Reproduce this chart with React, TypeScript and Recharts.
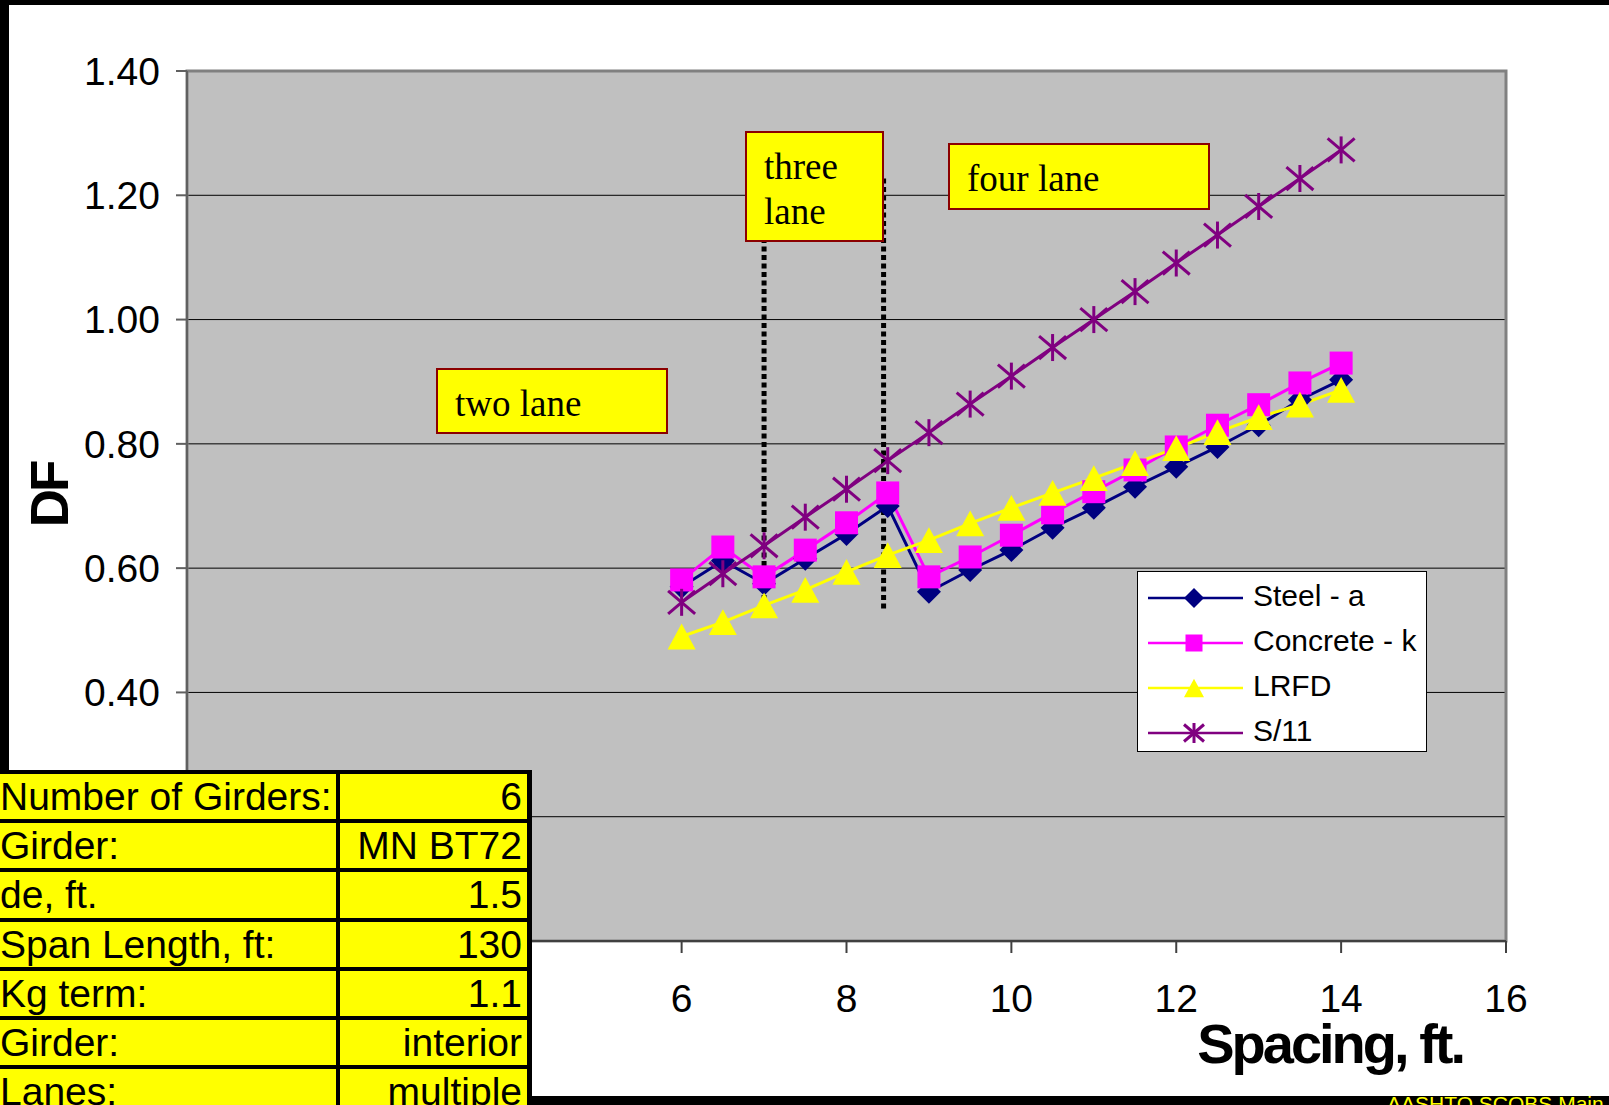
import { LineChart, Line, XAxis, YAxis, CartesianGrid, ReferenceArea, Legend, Label } from 'recharts';

// girder spacing, ft.
const spacing = [6, 6.5, 7, 7.5, 8, 8.5, 9, 9.5, 10, 10.5, 11, 11.5, 12, 12.5, 13, 13.5, 14];

// distribution factors per method
const steelA = [0.57, 0.612, 0.575, 0.615, 0.655, 0.7, 0.562, 0.597, 0.629, 0.665, 0.697, 0.731, 0.763, 0.795, 0.83, 0.871, 0.903];
const concreteK = [0.581, 0.634, 0.586, 0.629, 0.673, 0.721, 0.586, 0.618, 0.653, 0.689, 0.723, 0.758, 0.795, 0.83, 0.863, 0.898, 0.93];
const lrfd = [0.49, 0.513, 0.54, 0.565, 0.594, 0.621, 0.645, 0.672, 0.697, 0.721, 0.745, 0.769, 0.793, 0.819, 0.843, 0.863, 0.887];
const s11 = [0.545, 0.591, 0.636, 0.682, 0.727, 0.773, 0.818, 0.864, 0.909, 0.955, 1.0, 1.045, 1.091, 1.136, 1.182, 1.227, 1.273];

const xTicks = [0, 2, 4, 6, 8, 10, 12, 14, 16];
const yTicks = [0, 0.2, 0.4, 0.6, 0.8, 1.0, 1.2, 1.4];

// dotted lines where the number of lanes changes
const breakSpacing = [7, 8.45];
const breakTop = [1.13, 1.23];
const breakBottom = [0.535, 0.535];

const laneLabels = ['two lane', 'three\nlane', 'four lane'];

const girderLabels = ['Number of Girders:', 'Girder:', 'de, ft.', 'Span Length, ft:', 'Kg term:', 'Girder:', 'Lanes:'];
const girderValues = ['6', 'MN BT72', '1.5', '130', '1.1', 'interior', 'multiple'];

const SANS = '"Liberation Sans", Arial, sans-serif';
const SERIF = '"Liberation Serif", "Times New Roman", serif';

type Kind = 'diamond' | 'square' | 'triangle' | 'star';

const series: { key: string; name: string; color: string; kind: Kind }[] = [
  { key: 'steel', name: 'Steel - a', color: '#000080', kind: 'diamond' },
  { key: 'concrete', name: 'Concrete - k', color: '#FF00FF', kind: 'square' },
  { key: 'lrfd', name: 'LRFD', color: '#FFFF00', kind: 'triangle' },
  { key: 's11', name: 'S/11', color: '#800080', kind: 'star' },
];

function Marker({ kind, cx, cy, color, s }: { kind: Kind; cx: number; cy: number; color: string; s: number }) {
  if (kind === 'diamond') {
    return <polygon points={`${cx},${cy - s} ${cx + s},${cy} ${cx},${cy + s} ${cx - s},${cy}`} fill={color} />;
  }
  if (kind === 'square') {
    return <rect x={cx - s} y={cy - s} width={s * 2} height={s * 2} fill={color} />;
  }
  if (kind === 'triangle') {
    const h = s * 0.92;
    return <polygon points={`${cx},${cy - h} ${cx + s},${cy + h} ${cx - s},${cy + h}`} fill={color} />;
  }
  const d = s * 0.85;
  return (
    <g stroke={color} strokeWidth={3}>
      <line x1={cx} y1={cy - s} x2={cx} y2={cy + s} />
      <line x1={cx - s} y1={cy - d} x2={cx + s} y2={cy + d} />
      <line x1={cx - s} y1={cy + d} x2={cx + s} y2={cy - d} />
    </g>
  );
}

const markerSize: Record<Kind, number> = { diamond: 12, square: 11.5, triangle: 14, star: 13.5 };
const legendMarkerSize: Record<Kind, number> = { diamond: 10, square: 8.5, triangle: 10, star: 10 };

function LegendBox({ payload }: { payload?: any[] }) {
  const shown = new Set((payload || []).map((p) => p.dataKey));
  const items = series.filter((s) => shown.has(s.key));
  return (
    <svg width={288} height={179} style={{ display: 'block' }}>
      {items.map((s, i) => {
        const cy = 26 + i * 45;
        return (
          <g key={s.key}>
            <line x1={10} x2={105} y1={cy} y2={cy} stroke={s.color} strokeWidth={2.5} />
            <Marker kind={s.kind} cx={56} cy={cy} color={s.color} s={legendMarkerSize[s.kind]} />
            <text x={115} y={cy + 7.5} fontSize={30} fontFamily={SANS} fill="#000">
              {s.name}
            </text>
          </g>
        );
      })}
    </svg>
  );
}

function YTitle(props: any) {
  const { viewBox } = props;
  const cx = viewBox.x + 49;
  const cy = viewBox.y + viewBox.height / 2 - 11;
  return (
    <text x={cx} y={cy} transform={`rotate(-90 ${cx} ${cy})`} textAnchor="middle" dominantBaseline="central"
      fontSize={53} fontWeight="bold" fontFamily={SANS} letterSpacing={-3} fill="#000">
      DF
    </text>
  );
}

function XTitle(props: any) {
  const { viewBox } = props;
  return (
    <text x={viewBox.x + viewBox.width - 43} y={viewBox.y + 122} textAnchor="end"
      fontSize={56} fontWeight="bold" fontFamily={SANS} letterSpacing={-3} fill="#000">
      Spacing, ft.
    </text>
  );
}

// annotation boxes: left, top, width, height
const laneBoxes = [
  [436, 368, 232, 66],
  [745, 131, 139, 111],
  [948, 143, 262, 67],
];

export default function App() {
  const rows = spacing.map((s, i) => ({
    spacing: s,
    steel: steelA[i],
    concrete: concreteK[i],
    lrfd: lrfd[i],
    s11: s11[i],
  }));
  const breaks = breakSpacing.map((s, i) => [
    { spacing: s, df: breakBottom[i] },
    { spacing: s, df: breakTop[i] },
  ]);

  const rowTop = 770;
  const rowH = 49.2;

  return (
    <div style={{ position: 'fixed', left: 0, top: 0, width: 1609, height: 1105, overflow: 'hidden', background: '#fff' }}>
      <div style={{ position: 'absolute', left: 0, top: 0, width: 1609, height: 5, background: '#000' }} />
      <div style={{ position: 'absolute', left: 0, top: 0, width: 9, height: 780, background: '#000' }} />
      <div style={{ position: 'absolute', left: 0, top: 0 }}>
        <LineChart width={1609} height={1105} data={rows} margin={{ top: 71, right: 103, bottom: 0, left: 0 }}>
          <CartesianGrid vertical={false} fill="#C0C0C0" stroke="#000" strokeWidth={1} />
          <ReferenceArea x1={0} x2={16} y1={0} y2={1.4} fill="none" stroke="#808080" strokeWidth={3} />
          <XAxis dataKey="spacing" type="number" domain={[0, 16]} ticks={xTicks} height={164}
            stroke="#404040" strokeWidth={2} tickSize={12} tickMargin={31}
            tick={{ fill: '#000', fontSize: 39, fontFamily: SANS }}>
            <Label content={<XTitle />} />
          </XAxis>
          <YAxis type="number" domain={[0, 1.4]} ticks={yTicks} width={187}
            stroke="#606060" strokeWidth={2} tickSize={11} tickMargin={16}
            tickFormatter={(v: number) => v.toFixed(2)}
            tick={{ fill: '#000', fontSize: 39, fontFamily: SANS }}>
            <Label content={<YTitle />} />
          </YAxis>
          {series.map((s) => (
            <Line key={s.key} dataKey={s.key} name={s.name} stroke={s.color} strokeWidth={3}
              isAnimationActive={false}
              dot={(p: any) => (
                <Marker key={`${s.key}-${p.index}`} kind={s.kind} cx={p.cx} cy={p.cy} color={s.color} s={markerSize[s.kind]} />
              )}
              activeDot={false} />
          ))}
          {breaks.map((b, i) => (
            <Line key={`break-${i}`} data={b} dataKey="df" stroke="#000" strokeWidth={5}
              strokeDasharray="5 3.5" dot={false} activeDot={false} legendType="none" isAnimationActive={false} />
          ))}
          <Legend layout="vertical" align="center" verticalAlign="middle"
            wrapperStyle={{ left: 1137, top: 571, width: 290, height: 181, background: '#fff', border: '1px solid #000', boxSizing: 'border-box' }}
            content={(props: any) => <LegendBox payload={props.payload} />} />
        </LineChart>
      </div>

      {laneBoxes.map(([l, t, w, h], i) => (
        <div key={i} style={{
          position: 'absolute', left: l, top: t, width: w, height: h, boxSizing: 'border-box',
          background: '#FFFF00', border: '2px solid #8B0000',
        }}>
          <div style={{
            position: 'absolute', left: 17, top: 11, whiteSpace: 'pre-line',
            fontFamily: SERIF, fontSize: 37, lineHeight: '45px', color: '#000',
          }}>
            {laneLabels[i]}
          </div>
        </div>
      ))}

      {/* girder data table */}
      <div style={{ position: 'absolute', left: 0, top: rowTop, width: 532, height: 360, background: '#000' }} />
      {girderLabels.map((label, i) => {
        const top = rowTop + 4 + i * rowH;
        const h = rowH - 4;
        return (
          <div key={i}>
            <div style={{
              position: 'absolute', left: 0, top, width: 335.5, height: h, background: '#FFFF00',
              fontFamily: SANS, fontSize: 39, lineHeight: `${h}px`, color: '#000', whiteSpace: 'nowrap',
            }}>
              {label}
            </div>
            <div style={{
              position: 'absolute', left: 339.5, top, width: 187.5, height: h, background: '#FFFF00',
              fontFamily: SANS, fontSize: 39, lineHeight: `${h}px`, color: '#000', whiteSpace: 'nowrap',
              textAlign: 'right', boxSizing: 'border-box', paddingRight: 5,
            }}>
              {girderValues[i]}
            </div>
          </div>
        );
      })}

      <div style={{ position: 'absolute', left: 530, top: 1096, width: 1079, height: 9, background: '#000' }} />
      <div style={{
        position: 'absolute', left: 1387, top: 1092, fontFamily: SANS, fontSize: 21, lineHeight: 'normal',
        color: '#FFFF00', whiteSpace: 'nowrap',
      }}>
        AASHTO SCOBS Main
      </div>
    </div>
  );
}
